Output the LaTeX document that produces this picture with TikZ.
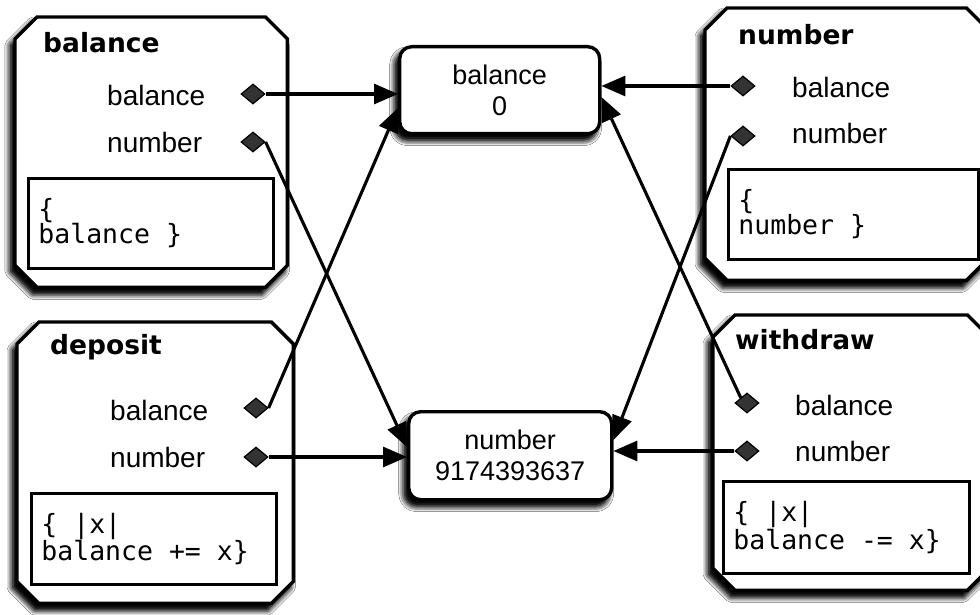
\documentclass[tikz,border=0pt]{standalone}
\usepackage{fontspec}
\setmainfont{Liberation Sans}
\newfontfamily\codefont{DejaVu Sans Mono}
\newfontfamily\titlefont{DejaVu Sans}
\usetikzlibrary{shapes.geometric,shadows.blur,arrows.meta}

% one full character cell of the code font
\newcommand\codesp{\hspace*{0.602em}}

% chamfered outline drawn around an (invisible) frame node
\newcommand\chamferbox[1]{%
  \draw[bigbox] ([xshift=22pt]#1.north west) -- ([xshift=-22pt]#1.north east)
    -- ([yshift=-22pt]#1.north east) -- ([yshift=22pt]#1.south east)
    -- ([xshift=-22pt]#1.south east) -- ([xshift=22pt]#1.south west)
    -- ([yshift=22pt]#1.south west) -- ([yshift=-22pt]#1.north west) -- cycle;}

\tikzset{
  softshadow/.style={
      blur shadow={shadow xshift=-6pt, shadow yshift=-8pt,
      shadow blur radius=10pt, shadow opacity=100},
      blur shadow={shadow xshift=-4pt, shadow yshift=-6pt,
      shadow blur radius=6pt, shadow opacity=100}},
  frame/.style={rectangle, draw=none, inner sep=0pt, anchor=north west},
  bigbox/.style={draw=black, line width=3.4pt, fill=white, line join=miter, softshadow},
  title/.style={font=\titlefont\bfseries\fontsize{26.5}{30}\selectfont, anchor=west, inner sep=0pt},
  field/.style={font=\fontsize{28}{30}\selectfont, anchor=west, inner sep=0pt},
  port/.style={diamond, draw=black, line width=1.2pt, fill=black!80,
      minimum width=24pt, minimum height=20pt, inner sep=0pt},
  codebox/.style={draw=black, line width=2.8pt, fill=white, anchor=north west,
      align=left, inner xsep=10pt, inner ysep=0pt,
      font=\codefont\fontsize{26.5}{25}\selectfont},
  valbox/.style={draw=black, line width=3.4pt, fill=white, rounded corners=12pt,
      anchor=north west, align=center, inner sep=0pt,
      font=\fontsize{27}{31}\selectfont, softshadow},
  link/.style={draw=black, line width=3.1pt, -{Triangle[length=24pt,width=20pt]}},
}

\begin{document}
\begin{tikzpicture}[x=1pt, y=-1pt]
\useasboundingbox[fill=white] (0,0) rectangle (980,615);

% ---- object frames ----
\node[frame, minimum width=272pt, minimum height=270pt] (balframe) at (15,17) {};
\node[frame, minimum width=276pt, minimum height=281pt] (depframe) at (17,322) {};
\node[frame, minimum width=283pt, minimum height=272pt] (numframe) at (705,8) {};
\node[frame, minimum width=276pt, minimum height=275pt] (witframe) at (713,315) {};
\chamferbox{balframe}
\chamferbox{depframe}
\chamferbox{numframe}
\chamferbox{witframe}

% ---- balance ----
\node[title] (baltitle) at (43,43) {balance};
\node[field] (balf1) at (107,95) {balance};
\node[field] (balf2) at (107,142) {number};
\node[port] (bbp) at (253,94) {};
\node[port] (bnp) at (253,142) {};
\node[codebox, text width=225pt, minimum height=90pt] (balcode) at (27,177)
  {\{\\balance\codesp\}};

% ---- deposit ----
\node[title] (deptitle) at (50,347) {deposit};
\node[field] (depf1) at (110,410) {balance};
\node[field] (depf2) at (110,457) {number};
\node[port] (dbp) at (256,408) {};
\node[port] (dnp) at (256,457) {};
\node[codebox, text width=225pt, minimum height=91pt] (depcode) at (30,492)
  {\{\codesp|x|\\balance\codesp+=\codesp x\}};

% ---- number ----
\node[title] (numtitle) at (738,35) {number};
\node[field] (numf1) at (792,87) {balance};
\node[field] (numf2) at (792,133) {number};
\node[port] (nbp) at (743,86) {};
\node[port] (nnp) at (743,136) {};
\node[codebox, text width=230pt, minimum height=90pt] (numcode) at (727,168)
  {\{\\number\codesp\}};

% ---- withdraw ----
\node[title] (wittitle) at (735,340) {withdraw};
\node[field] (witf1) at (795,405) {balance};
\node[field] (witf2) at (795,451) {number};
\node[port] (wbp) at (747,403) {};
\node[port] (wnp) at (747,451) {};
\node[codebox, text width=226pt, minimum height=92pt] (witcode) at (722,480)
  {\{\codesp|x|\\balance\codesp-=\codesp x\}};

% ---- shared values ----
\node[valbox, minimum width=200pt, minimum height=87pt] (balval) at (398,45) {balance\\0};
\node[valbox, minimum width=203pt, minimum height=88pt] (numval) at (407,410) {number\\9174393637};

% ---- references ----
\draw[link] (bbp) -- (balval.west |- bbp);
\draw[link] (bnp.east) -- ([yshift=-37pt]numval.north west);
\draw[link] (dbp.east) -- ([yshift=-63pt]balval.north west);
\draw[link] (dnp) -- (numval.west |- dnp);
\draw[link] (nbp) -- (balval.east |- nbp);
\draw[link] (nnp.west) -- ([yshift=-30pt]numval.north east);
\draw[link] (wbp.north west) -- ([yshift=-52pt]balval.north east);
\draw[link] (wnp) -- (numval.east |- wnp);
\end{tikzpicture}
\end{document}
